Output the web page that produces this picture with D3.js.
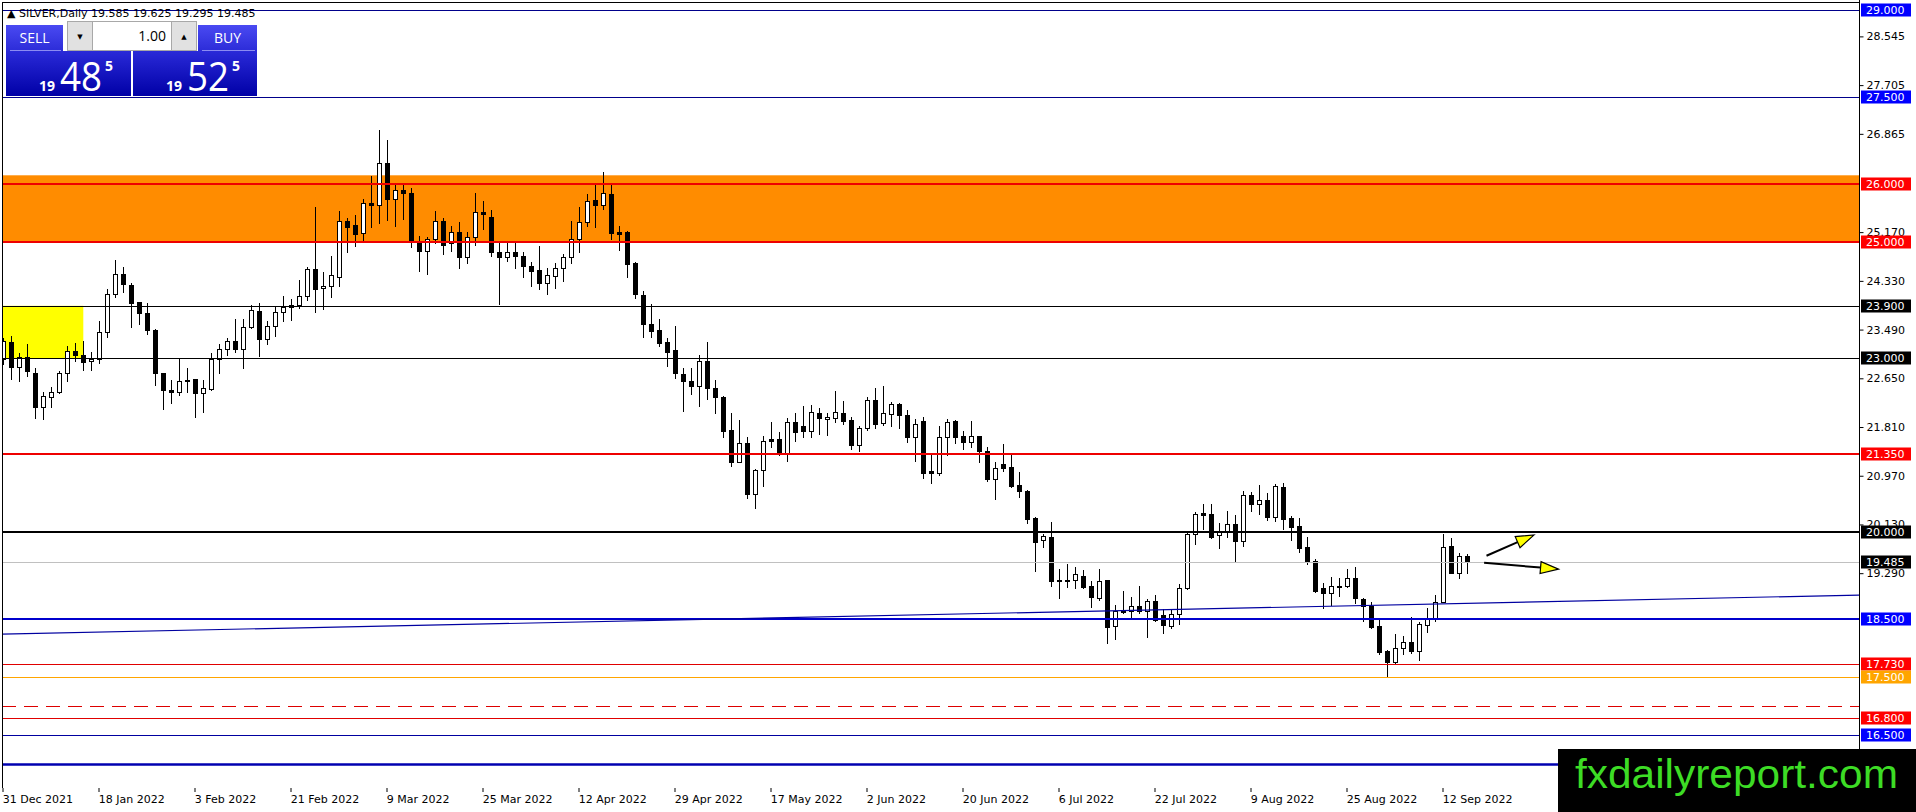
<!DOCTYPE html>
<html>
<head>
<meta charset="utf-8">
<script src="https://cdn.jsdelivr.net/npm/d3@7"></script>
<style>
  body { margin: 0; background: #fff; overflow: hidden; }
  text { font-family: "DejaVu Sans", sans-serif; }
</style>
</head>
<body>
<script>
// SILVER, Daily - bars from 31 Dec 2021 to 15 Sep 2022
const open = [22.99,23.27,22.85,23.01,22.75,22.15,22.32,22.42,22.74,23.12,23.05,22.95,22.98,23.44,24.10,24.44,24.26,23.96,23.77,23.49,
  22.74,22.45,22.42,22.62,22.63,22.39,22.46,22.98,23.15,23.29,23.15,23.53,23.81,23.33,23.56,23.80,23.92,23.91,24.07,24.53,
  24.20,24.25,24.40,25.36,25.29,25.15,25.67,25.63,26.36,25.74,25.90,25.85,25.02,24.85,25.06,25.36,24.98,25.17,24.75,25.08,
  25.52,25.43,24.83,24.735,24.83,24.76,24.59,24.52,24.30,24.42,24.56,24.75,25.06,25.34,25.72,25.63,25.83,25.17,25.18,24.64,
  24.09,23.58,23.48,23.27,23.13,22.72,22.60,22.52,22.95,22.48,22.33,21.76,21.21,21.54,20.65,21.07,21.60,21.60,21.37,21.89,
  21.82,21.75,22.06,21.94,21.96,22.06,21.93,21.50,21.79,22.28,21.885,22.03,22.20,22.02,21.64,21.91,21.05,21.01,21.63,21.91,
  21.66,21.55,21.66,21.40,20.91,21.18,21.115,20.81,20.71,20.25,19.86,19.91,19.18,19.18,19.18,19.25,19.07,18.87,19.17,18.38,
  18.625,18.64,18.72,18.63,18.81,18.57,18.385,18.58,19.04,19.96,20.32,20.31,19.95,20.02,20.13,19.85,20.64,20.49,20.55,20.26,
  20.78,20.235,20.10,19.735,19.505,19.03,18.94,19.075,19.07,19.20,18.84,18.73,18.385,17.95,17.753,17.994,18.097,17.948,18.40,18.494,
  18.80,19.758,19.287,19.585];
const high = [23.35,23.38,23.08,23.24,22.82,22.42,22.50,22.78,23.20,23.25,23.30,23.10,23.63,24.19,24.69,24.57,24.29,23.97,23.95,23.50,
  22.75,22.62,23.00,22.83,22.64,22.62,23.08,23.24,23.34,23.68,23.67,23.91,23.95,23.64,23.88,24.07,24.01,24.35,24.57,25.60,
  24.48,24.76,25.54,25.41,25.47,25.74,26.14,26.93,26.76,26.01,25.98,25.93,25.10,25.08,25.54,25.41,25.28,25.35,25.18,25.85,
  25.71,25.56,25.00,25.00,25.00,24.83,24.66,24.93,24.55,24.64,24.79,25.36,25.60,25.83,25.99,26.21,25.99,25.28,25.19,24.65,
  24.15,23.93,23.67,23.34,23.55,22.82,22.82,23.06,23.27,22.62,22.34,22.06,21.93,21.63,21.08,21.66,21.90,21.73,21.96,22.06,
  22.17,22.19,22.13,22.05,22.43,22.26,21.98,21.83,22.32,22.48,22.51,22.25,22.23,22.10,21.94,21.98,21.34,21.83,21.94,21.93,
  21.75,21.91,21.66,21.47,21.20,21.52,21.36,21.03,20.72,20.26,19.97,20.18,19.36,19.45,19.40,19.35,19.16,19.37,19.18,18.74,
  18.98,18.885,19.07,18.84,18.91,18.67,18.68,19.10,19.99,20.35,20.49,20.48,20.16,20.36,20.29,20.71,20.695,20.81,20.67,20.83,
  20.84,20.275,20.25,19.91,19.53,19.115,19.23,19.20,19.37,19.39,18.87,18.79,18.48,17.965,18.241,18.207,18.54,18.44,18.684,18.914,
  19.965,19.902,19.643,19.625];
const low = [22.90,22.63,22.61,22.69,21.96,21.95,22.15,22.40,22.61,22.95,22.79,22.79,22.91,23.36,24.05,24.14,23.53,23.58,23.41,22.53,
  22.12,22.22,22.37,22.42,21.98,22.07,22.44,22.74,23.05,23.10,22.82,23.51,23.04,23.24,23.38,23.64,23.65,23.86,24.00,23.79,
  23.84,24.06,24.24,24.83,24.93,25.00,25.26,25.32,25.38,25.28,25.39,24.91,24.50,24.44,24.99,24.80,24.85,24.56,24.64,24.94,
  25.22,24.76,23.93,24.68,24.55,24.39,24.25,24.19,24.10,24.21,24.33,24.64,24.83,25.28,25.26,25.57,25.05,24.87,24.39,24.03,
  23.37,23.37,23.20,22.86,22.65,22.09,22.38,22.18,22.29,22.06,21.64,21.14,21.20,20.58,20.41,20.80,21.47,21.33,21.23,21.575,
  21.63,21.63,21.69,21.67,21.90,21.86,21.43,21.39,21.76,21.80,21.84,21.83,21.80,21.55,21.23,20.93,20.85,20.98,21.32,21.54,
  21.43,21.46,21.20,20.88,20.57,21.06,20.77,20.60,20.16,19.33,19.74,19.07,18.87,19.06,19.03,19.03,18.70,18.82,18.09,18.15,
  18.60,18.54,18.60,18.195,18.465,18.264,18.34,18.41,19.01,19.79,20.05,19.89,19.73,19.92,19.505,19.76,20.36,20.31,20.21,20.195,
  20.05,19.87,19.66,19.44,18.96,18.683,18.74,18.90,19.05,18.77,18.47,18.34,17.89,17.517,17.735,17.896,17.91,17.793,18.281,18.465,
  18.799,19.287,19.201,19.295];
const close = [23.29,22.85,23.01,22.77,22.15,22.34,22.42,22.75,23.12,23.06,22.93,22.98,23.45,24.11,24.44,24.27,23.95,23.78,23.49,22.74,
  22.44,22.42,22.61,22.60,22.39,22.49,22.98,23.15,23.29,23.15,23.53,23.82,23.33,23.56,23.80,23.88,23.88,24.07,24.53,24.19,
  24.25,24.43,25.36,25.26,25.14,25.67,25.63,26.37,25.74,25.90,25.84,25.02,24.85,25.06,25.36,24.94,25.18,24.75,25.08,25.51,
  25.49,24.83,24.735,24.83,24.76,24.59,24.50,24.30,24.43,24.56,24.75,25.06,25.34,25.71,25.63,25.84,25.15,25.14,24.62,24.10,
  23.58,23.47,23.26,23.11,22.74,22.61,22.52,22.95,22.48,22.32,21.75,21.21,21.54,20.65,21.07,21.575,21.575,21.37,21.89,21.72,
  21.75,22.07,21.96,21.98,22.07,21.91,21.50,21.79,22.28,21.86,22.06,22.21,22.01,21.64,21.86,21.02,21.01,21.63,21.90,21.63,
  21.55,21.66,21.39,20.91,21.10,21.10,20.80,20.70,20.22,19.83,19.93,19.16,19.16,19.16,19.27,19.06,18.88,19.16,18.36,18.64,
  18.64,18.72,18.63,18.81,18.49,18.40,18.58,19.03,19.96,20.31,20.30,19.92,20.01,20.13,19.85,20.64,20.49,20.55,20.26,20.79,
  20.224,20.09,19.73,19.49,18.98,18.94,19.075,19.06,19.20,18.856,18.724,18.37,17.925,17.764,17.994,18.097,17.948,18.41,18.494,18.799,
  19.747,19.287,19.59,19.485];

const bid = 19.485, ask = 19.525, lot = '1.00';

// time axis labels
const dateLabels = ['31 Dec 2021','18 Jan 2022','3 Feb 2022','21 Feb 2022','9 Mar 2022','25 Mar 2022','12 Apr 2022','29 Apr 2022',
  '17 May 2022','2 Jun 2022','20 Jun 2022','6 Jul 2022','22 Jul 2022','9 Aug 2022','25 Aug 2022','12 Sep 2022'];
// price scale labels
const priceTicks = [28.545,27.705,26.865,25.170,24.330,23.490,22.650,21.810,20.970,20.130,19.290];

// horizontal levels drawn on the chart
const levelPrices = [29.0,27.5,26.0,25.0,23.9,23.0,21.35,20.0,19.485,18.5,17.73,17.5,17.0,16.8,16.5,16.0,15.586];
const levelStyles = [
  {c:'#00008b',w:1},{c:'#00008b',w:1},{c:'#ee0000',w:2},{c:'#ee0000',w:2},{c:'#000',w:1},{c:'#000',w:1},
  {c:'#ee0000',w:2},{c:'#000',w:2},{c:'#c0c0c0',w:1},{c:'#0000cd',w:2},{c:'#e00000',w:1},{c:'#ffa500',w:1},
  {c:'#dd0000',w:1,d:'14,8'},{c:'#e00000',w:1},{c:'#0000a0',w:1},{c:'#0000b0',w:2.5},{c:'#800000',w:1,d:'2,2'}];
// coloured labels on the price scale
const tagPrices = [29.0,27.5,26.0,25.0,23.9,23.0,21.35,20.0,19.485,18.5,17.73,17.5,16.8,16.5];
const tagColors = ['#0000ff','#0000ff','#ff0000','#ff0000','#000','#000','#ff0000','#000','#000','#0000ff','#ff0000','#ffa500','#ff0000','#0000ff'];

// zones (bar index / price)
const orangeZone = [26.15, 25.0];
const yellowZone = {bars: [-1, 10], prices: [23.9, 23.0]};
// trend line through two anchors
const trendBars = [0, 183], trendPrices = [18.24, 18.77];
// arrows: [bar, price] from -> to
const arrows = [[[185.4, 19.59], [191.35, 19.95]], [[185.1, 19.47], [194.4, 19.36]]];

// trading days (weekdays, without Good Friday)
const days = d3.timeDay.range(new Date(2021, 11, 31), new Date(2022, 8, 16))
  .filter(d => d.getDay() % 6 !== 0 && +d !== +new Date(2022, 3, 15));
const fmtDay = d3.timeFormat('%-d %b %Y');

const W = 1916, H = 812;
const L = 2, T = 2, R = 1859, B = 788;

const svg = d3.select('body').append('svg')
  .attr('width', W).attr('height', H)
  .style('display', 'block');

const x = d3.scaleLinear().domain([0, days.length - 1]).range([3.3, 3.3 + 8 * (days.length - 1)]);
const y = d3.scaleLinear().domain([16.5, 29]).range([735, 10]);

svg.append('clipPath').attr('id', 'clip')
  .append('rect').attr('x', L).attr('y', T).attr('width', R - L).attr('height', B - T);
const plot = svg.append('g').attr('clip-path', 'url(#clip)');

// zones
plot.append('rect')
  .attr('x', L).attr('width', R - L)
  .attr('y', y(orangeZone[0])).attr('height', y(orangeZone[1]) - y(orangeZone[0]))
  .attr('fill', '#ff8c00');
plot.append('rect')
  .attr('x', x(yellowZone.bars[0])).attr('width', x(yellowZone.bars[1]) - x(yellowZone.bars[0]))
  .attr('y', y(yellowZone.prices[0])).attr('height', y(yellowZone.prices[1]) - y(yellowZone.prices[0]))
  .attr('fill', '#ffff00');

// candles
const bars = days.map((d, i) => ({d, i, o: open[i], h: high[i], l: low[i], c: close[i]}));
const cx = b => Math.round(x(b.i));
plot.selectAll('line.wick').data(bars).join('line')
  .attr('class', 'wick')
  .attr('x1', b => cx(b) + 0.5).attr('x2', b => cx(b) + 0.5)
  .attr('y1', b => Math.round(y(b.h))).attr('y2', b => Math.round(y(b.l)) + 1)
  .attr('stroke', '#000').attr('stroke-width', 1);
plot.selectAll('rect.body').data(bars).join('rect')
  .attr('class', 'body')
  .attr('x', b => cx(b) - 1.5).attr('width', 4)
  .attr('y', b => Math.round(y(Math.max(b.o, b.c))) + 0.5)
  .attr('height', b => Math.max(1, Math.round(y(Math.min(b.o, b.c))) - Math.round(y(Math.max(b.o, b.c)))))
  .attr('fill', b => b.c >= b.o ? '#fff' : '#000')
  .attr('stroke', '#000').attr('stroke-width', 1);

// horizontal levels
plot.selectAll('line.level').data(levelPrices).join('line')
  .attr('class', 'level')
  .attr('x1', L).attr('x2', R)
  .attr('y1', (p, i) => Math.round(y(p)) + (levelStyles[i].w % 2 ? 0.5 : 0))
  .attr('y2', (p, i) => Math.round(y(p)) + (levelStyles[i].w % 2 ? 0.5 : 0))
  .attr('stroke', (p, i) => levelStyles[i].c)
  .attr('stroke-width', (p, i) => levelStyles[i].w)
  .attr('stroke-dasharray', (p, i) => levelStyles[i].d || null);

// trend line, extended to both edges
const tx0 = x(trendBars[0]), tx1 = x(trendBars[1]);
const ty0 = y(trendPrices[0]), ty1 = y(trendPrices[1]);
const slope = (ty1 - ty0) / (tx1 - tx0);
plot.append('line')
  .attr('x1', L).attr('y1', ty0 + (L - tx0) * slope)
  .attr('x2', R).attr('y2', ty0 + (R - tx0) * slope)
  .attr('stroke', '#0000a0').attr('stroke-width', 1.2);

// arrows
arrows.forEach(([a, b]) => {
  const x0 = x(a[0]), y0 = y(a[1]), x1 = x(b[0]), y1 = y(b[1]);
  const len = Math.hypot(x1 - x0, y1 - y0), ux = (x1 - x0) / len, uy = (y1 - y0) / len;
  const hx = x1 - ux * 18, hy = y1 - uy * 18;
  plot.append('line')
    .attr('x1', x0).attr('y1', y0).attr('x2', hx).attr('y2', hy)
    .attr('stroke', '#000').attr('stroke-width', 2);
  plot.append('path')
    .attr('d', d3.line()([[x1, y1], [hx - uy * 6, hy + ux * 6], [hx + uy * 6, hy - ux * 6]]) + 'Z')
    .attr('fill', '#ffff00').attr('stroke', '#000').attr('stroke-width', 1.2);
});

// frame
svg.append('line').attr('x1', L + 0.5).attr('x2', L + 0.5).attr('y1', T).attr('y2', B).attr('stroke', '#000');
svg.append('line').attr('x1', L).attr('x2', R).attr('y1', T + 0.5).attr('y2', T + 0.5).attr('stroke', '#000');
svg.append('line').attr('x1', R + 0.5).attr('x2', R + 0.5).attr('y1', 0).attr('y2', H).attr('stroke', '#000');

// price axis
const yAxis = svg.append('g')
  .attr('transform', `translate(${R + 0.5},0)`)
  .call(d3.axisRight(y).tickValues(priceTicks).tickFormat(d3.format('.3f')).tickSize(4));
yAxis.select('.domain').remove();
yAxis.selectAll('text').attr('font-size', 11).attr('fill', '#000').style('font-family', '"DejaVu Sans"');

// coloured price tags
const tags = svg.append('g').selectAll('g').data(tagPrices).join('g')
  .attr('transform', p => `translate(${R + 2},${Math.round(y(p))})`);
tags.append('rect').attr('x', 0).attr('y', -6.5).attr('width', 50).attr('height', 13)
  .attr('fill', (p, i) => tagColors[i]);
tags.append('text').attr('x', 5).attr('y', 0).attr('dy', '0.36em')
  .attr('font-size', 11).attr('fill', '#fff')
  .text(d3.format('.3f'));

// time axis
const labelIdx = dateLabels.map(s => days.findIndex(d => fmtDay(d) === s));
const xAxis = svg.append('g')
  .attr('transform', `translate(0,${B})`)
  .call(d3.axisBottom(x).tickValues(labelIdx).tickFormat((v, k) => dateLabels[k]).tickSize(4));
xAxis.select('.domain').remove();
xAxis.selectAll('.tick line').attr('transform', 'translate(-0.8,0)');
xAxis.selectAll('text').attr('text-anchor', 'start').attr('x', -1).attr('y', 7)
  .attr('font-size', 11).attr('fill', '#000');

// header
const last = days.length - 1;
svg.append('text').attr('x', 7).attr('y', 17).attr('font-size', 11).attr('fill', '#000')
  .text(`\u25B2 SILVER,Daily  ${[open[last], high[last], low[last], close[last]].map(d3.format('.3f')).join(' ')}`);

// one-click trading panel
const defs = svg.append('defs');
const g1 = defs.append('linearGradient').attr('id', 'btn').attr('x1', 0).attr('x2', 0).attr('y1', 0).attr('y2', 1);
g1.append('stop').attr('offset', 0).attr('stop-color', '#4a4af2');
g1.append('stop').attr('offset', 1).attr('stop-color', '#2c2cd8');
const g2 = defs.append('linearGradient').attr('id', 'box').attr('x1', 0).attr('x2', 0).attr('y1', 0).attr('y2', 1);
g2.append('stop').attr('offset', 0).attr('stop-color', '#2a2ad8');
g2.append('stop').attr('offset', 1).attr('stop-color', '#0000a6');

const panel = svg.append('g');
const sans = '"Open Sans", sans-serif';
[[6, 57, 'SELL'], [198, 59, 'BUY']].forEach(([px, pw, label]) => {
  panel.append('rect').attr('x', px).attr('y', 25).attr('width', pw).attr('height', 26).attr('fill', 'url(#btn)');
  panel.append('line').attr('x1', px + 4).attr('x2', px + pw - 2).attr('y1', 50.5).attr('y2', 50.5)
    .attr('stroke', '#8c8cf2');
  panel.append('text').attr('x', px + pw / 2).attr('y', 43).attr('text-anchor', 'middle')
    .attr('font-size', 14).attr('fill', '#fff').style('font-family', sans).text(label);
});
panel.append('rect').attr('x', 67.5).attr('y', 21.5).attr('width', 129).attr('height', 29)
  .attr('fill', '#fff').attr('stroke', '#a8a8a8');
[[67.5, '\u25BC'], [171.5, '\u25B2']].forEach(([px, sym]) => {
  panel.append('rect').attr('x', px).attr('y', 21.5).attr('width', 25).attr('height', 29)
    .attr('fill', '#e1e1e1').attr('stroke', '#a8a8a8');
  panel.append('text').attr('x', px + 12.5).attr('y', 39).attr('text-anchor', 'middle')
    .attr('font-size', 7).attr('fill', '#000').text(sym);
});
panel.append('text').attr('x', 166).attr('y', 41).attr('text-anchor', 'end')
  .attr('font-size', 14).attr('fill', '#000').style('font-family', sans).text(lot);

[[6, 125, bid], [133, 124, ask]].forEach(([px, pw, price]) => {
  const s = d3.format('.3f')(price);
  panel.append('rect').attr('x', px).attr('y', 51).attr('width', pw).attr('height', 45).attr('fill', 'url(#box)');
  panel.append('text').attr('x', px + 33).attr('y', 91).attr('font-size', 14).attr('font-weight', 'bold')
    .attr('fill', '#fff').style('font-family', sans).text(s.slice(0, 2));
  panel.append('text').attr('x', px + 54).attr('y', 91).attr('font-size', 40)
    .attr('fill', '#fff').style('font-family', sans)
    .attr('textLength', 42).attr('lengthAdjust', 'spacingAndGlyphs').text(s.slice(3, 5));
  panel.append('text').attr('x', px + 99).attr('y', 71).attr('font-size', 14).attr('font-weight', 'bold')
    .attr('fill', '#fff').style('font-family', sans).text(s.slice(5));
});

// watermark
svg.append('rect').attr('x', 1558).attr('y', 749).attr('width', W - 1558).attr('height', H - 749).attr('fill', '#000');
svg.append('text').attr('x', 1575).attr('y', 788)
  .attr('font-size', 40).attr('fill', '#3ddc25')
  .style('font-family', '"Liberation Sans", Arial, sans-serif')
  .attr('textLength', 323).attr('lengthAdjust', 'spacingAndGlyphs')
  .text('fxdailyreport.com');
</script>
</body>
</html>
